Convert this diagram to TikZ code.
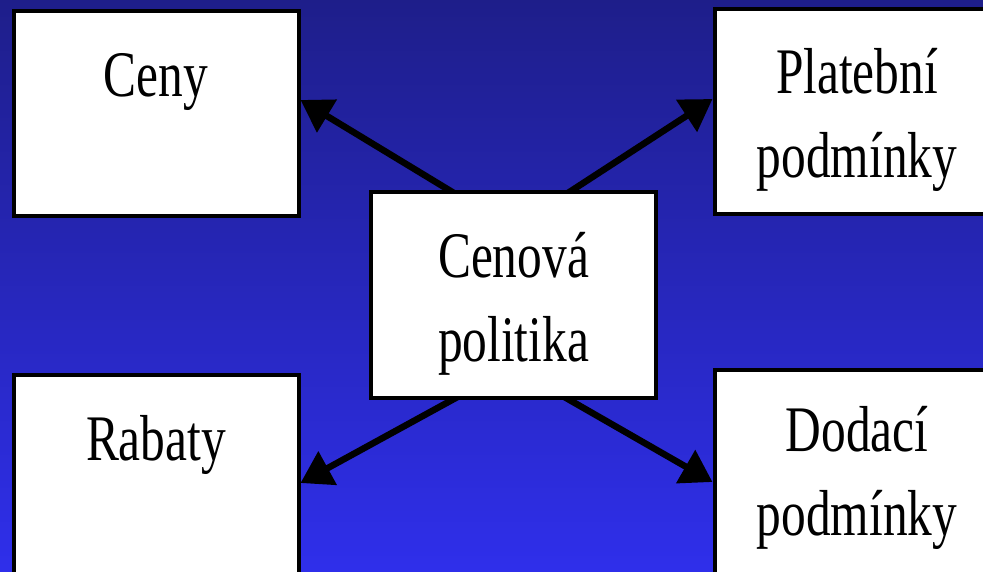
\documentclass[tikz,border=0pt]{standalone}
\usepackage{fontspec}
\setmainfont{Liberation Serif}[FakeStretch=0.76]
\usetikzlibrary{arrows.meta,calc}
\definecolor{bgtop}{RGB}{30,30,138}
\definecolor{bgmid}{RGB}{40,40,200}
\definecolor{bgbot}{RGB}{47,47,235}
\pgfdeclarelayer{bgl}
\pgfdeclarelayer{arl}
\pgfsetlayers{bgl,arl,main}
\begin{document}
\begin{tikzpicture}[x=1pt,y=-1pt,
  box/.style={draw=black, fill=white, line width=4pt, minimum width=285pt, minimum height=205pt, inner sep=0pt},
  lbl/.style={font=\fontsize{65}{84}\selectfont, anchor=base, inner sep=0pt},
  conn/.style={line width=6.5pt, draw=black, -{Triangle[length=31pt,width=37pt]}}]
\useasboundingbox (0,0) rectangle (983,572);
\clip (0,0) rectangle (983,572);
\begin{pgfonlayer}{bgl}
\shade[top color=bgtop, middle color=bgmid, bottom color=bgbot] (0,0) rectangle (983,572);
\end{pgfonlayer}
% boxes
\node[box] (ceny) at (156,114) {};
\node[box] (plat) at (857,112) {};
\node[box] (cen) at (513.5,295) {};
\node[box] (rab) at (156,477.5) {};
\node[box] (dod) at (857,472) {};
% labels
\node[lbl] (ceny-t) at ($(ceny.north)+(0,87)$) {Ceny};
\node[lbl] (plat-t) at ($(plat.north)+(0,86)$) {\parbox[t]{280pt}{\centering Platební\\podmínky}};
\node[lbl] (cen-t) at ($(cen.north)+(0,87)$) {\parbox[t]{280pt}{\centering Cenová\\politika}};
\node[lbl] (rab-t) at ($(rab.north)+(0,87)$) {Rabaty};
\node[lbl] (dod-t) at ($(dod.north)+(0,84)$) {\parbox[t]{280pt}{\centering Dodací\\podmínky}};
% connectors
\begin{pgfonlayer}{arl}
\draw[conn] ($(cen.north west)!0.308!(cen.north east)+(0,5)$) -- ([yshift=14pt]ceny.east);
\draw[conn] ($(cen.north west)!0.675!(cen.north east)+(0,5)$) -- ([yshift=13pt]plat.west);
\draw[conn] ($(cen.south west)!0.322!(cen.south east)+(0,-5)$) -- ([yshift=-5.5pt]rab.east);
\draw[conn] ($(cen.south west)!0.661!(cen.south east)+(0,-5)$) -- ([yshift=-10pt]dod.west);
\end{pgfonlayer}
\end{tikzpicture}
\end{document}
